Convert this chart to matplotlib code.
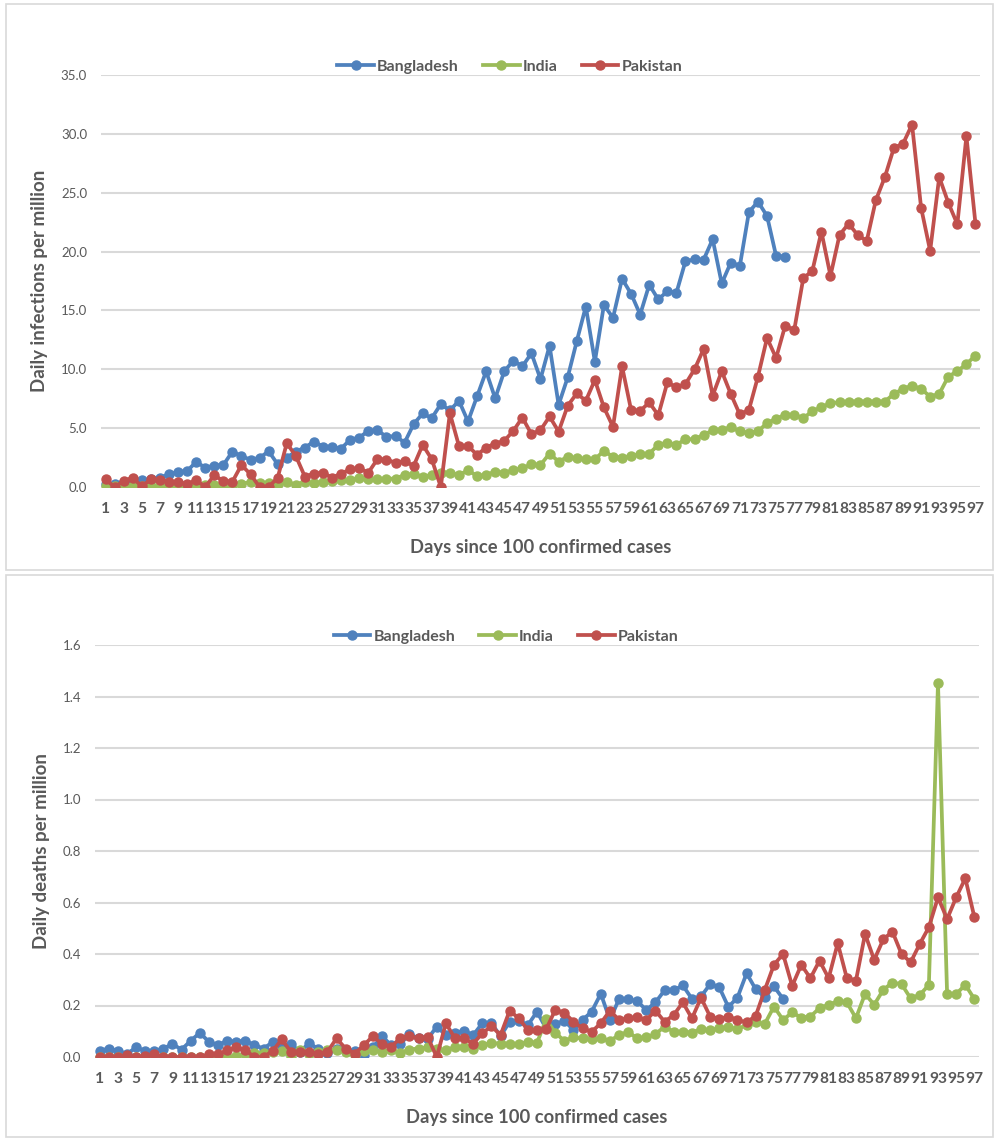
import matplotlib
matplotlib.use("Agg")
import matplotlib.pyplot as plt
from matplotlib.patches import Rectangle
from matplotlib.ticker import FormatStrFormatter, FixedLocator, NullLocator

plt.rcParams['font.family'] = ['Lato', 'DejaVu Sans']

countries = ["Bangladesh", "India", "Pakistan"]
colors = {"Bangladesh": "#4F81BD", "India": "#9BBB59", "Pakistan": "#C0504D"}
days = list(range(1, 98))
tick_labels = [str(d) for d in days if d % 2 == 1]

inf_bangladesh = [0.25, 0.28, 0.45, 0.65, 0.57, 0.65, 0.79, 1.08, 1.28, 1.36,
                  2.13, 1.65, 1.82, 1.87, 3.01, 2.61, 2.33, 2.47, 3.04, 1.93,
                  2.5, 3.01, 3.35, 3.86, 3.43, 3.43, 3.26, 4.03, 4.2, 4.77,
                  4.83, 4.26, 4.34, 3.77, 5.34, 6.25, 5.85, 7.04, 6.5, 7.33,
                  5.57, 7.7, 9.83, 7.53, 9.83, 10.73, 10.25, 11.36, 9.17, 12.0,
                  6.98, 9.31, 12.38, 15.33, 10.65, 15.47, 14.37, 17.69, 16.41, 14.65,
                  17.18, 15.93, 16.64, 16.5, 19.19, 19.33, 19.3, 21.05, 17.29, 19.07,
                  18.79, 23.36, 24.24, 23.02, 19.63, 19.58]
inf_india = [0.05, 0.05, 0.05, 0.08, 0.05, 0.1, 0.1, 0.1, 0.1, 0.1,
             0.12, 0.15, 0.17, 0.15, 0.2, 0.25, 0.45, 0.35, 0.37, 0.28,
             0.43, 0.2, 0.45, 0.35, 0.43, 0.5, 0.6, 0.6, 0.8, 0.7,
             0.65, 0.7, 0.71, 1.02, 1.08, 0.88, 1.02, 1.22, 1.22, 1.02,
             1.42, 0.94, 1.02, 1.31, 1.22, 1.42, 1.59, 1.93, 1.88, 2.84,
             2.16, 2.56, 2.44, 2.36, 2.36, 3.07, 2.56, 2.5, 2.64, 2.78,
             2.84, 3.58, 3.78, 3.58, 4.06, 4.06, 4.43, 4.8, 4.86, 5.08,
             4.72, 4.58, 4.75, 5.42, 5.79, 6.13, 6.13, 5.85, 6.44, 6.78,
             7.12, 7.2, 7.26, 7.26, 7.26, 7.26, 7.26, 7.91, 8.33, 8.62,
             8.33, 7.68, 7.91, 9.38, 9.83, 10.45, 11.16]
inf_pakistan = [0.65, 0.0, 0.51, 0.79, 0.05, 0.65, 0.57, 0.45, 0.45, 0.23,
                0.6, 0.0, 1.0, 0.51, 0.45, 1.87, 1.08, 0.0, 0.0, 0.79,
                3.72, 2.64, 0.88, 1.14, 1.22, 0.79, 1.14, 1.5, 1.59, 1.22,
                2.36, 2.33, 2.07, 2.2, 1.79, 3.58, 2.36, 0.0, 6.27, 3.49,
                3.49, 2.73, 3.35, 3.69, 3.92, 4.77, 5.9, 4.49, 4.83, 5.99,
                4.71, 6.9, 7.95, 7.33, 9.09, 6.76, 5.11, 10.25, 6.53, 6.47,
                7.18, 6.1, 8.89, 8.46, 8.75, 10.0, 11.72, 7.77, 9.83, 7.9,
                6.16, 6.55, 9.38, 12.66, 10.96, 13.7, 13.33, 17.74, 18.36, 21.69,
                17.94, 21.41, 22.37, 21.41, 20.9, 24.35, 26.33, 28.81, 29.15, 30.79,
                23.73, 20.06, 26.33, 24.15, 22.32, 29.8, 22.37]

dth_bangladesh = [0.024, 0.033, 0.024, 0.012, 0.037, 0.024, 0.024, 0.033, 0.05, 0.029,
                  0.063, 0.094, 0.059, 0.046, 0.063, 0.059, 0.063, 0.046, 0.033, 0.058,
                  0.04, 0.05, 0.02, 0.055, 0.03, 0.016, 0.03, 0.025, 0.025, 0.007,
                  0.037, 0.081, 0.045, 0.05, 0.089, 0.072, 0.07, 0.118, 0.085, 0.094,
                  0.102, 0.085, 0.131, 0.131, 0.081, 0.137, 0.141, 0.124, 0.176, 0.111,
                  0.128, 0.141, 0.105, 0.144, 0.176, 0.246, 0.144, 0.225, 0.225, 0.216,
                  0.183, 0.212, 0.259, 0.259, 0.278, 0.226, 0.235, 0.283, 0.271, 0.194,
                  0.231, 0.325, 0.263, 0.232, 0.274, 0.226]
dth_india = [0.0, 0.0, 0.0, 0.0, 0.0, 0.0, 0.0, 0.0, 0.0, 0.0,
             0.0, 0.0, 0.003, 0.003, 0.0, 0.003, 0.01, 0.015, 0.016, 0.02,
             0.024, 0.0, 0.029, 0.013, 0.02, 0.026, 0.029, 0.02, 0.007, 0.024,
             0.029, 0.02, 0.029, 0.016, 0.029, 0.033, 0.037, 0.03, 0.026, 0.039,
             0.037, 0.033, 0.046, 0.055, 0.052, 0.052, 0.05, 0.059, 0.055, 0.146,
             0.094, 0.063, 0.076, 0.072, 0.07, 0.072, 0.063, 0.085, 0.098, 0.072,
             0.076, 0.089, 0.118, 0.098, 0.098, 0.095, 0.108, 0.103, 0.112, 0.116,
             0.108, 0.125, 0.134, 0.129, 0.196, 0.144, 0.173, 0.153, 0.157, 0.19,
             0.203, 0.216, 0.212, 0.151, 0.245, 0.203, 0.261, 0.289, 0.283, 0.228,
             0.241, 0.28, 1.452, 0.245, 0.245, 0.28, 0.225]
dth_pakistan = [0.0, 0.0, 0.0, 0.007, 0.0, 0.003, 0.01, 0.0, 0.0, 0.0,
                0.0, 0.0, 0.01, 0.01, 0.026, 0.037, 0.026, 0.0, 0.0, 0.024,
                0.068, 0.02, 0.02, 0.02, 0.013, 0.02, 0.072, 0.033, 0.013, 0.046,
                0.081, 0.05, 0.039, 0.074, 0.081, 0.072, 0.078, 0.0, 0.131, 0.072,
                0.072, 0.052, 0.092, 0.12, 0.085, 0.18, 0.15, 0.105, 0.105, 0.107,
                0.183, 0.172, 0.137, 0.111, 0.098, 0.131, 0.18, 0.144, 0.15, 0.154,
                0.144, 0.18, 0.137, 0.163, 0.212, 0.15, 0.23, 0.157, 0.147, 0.157,
                0.144, 0.134, 0.16, 0.261, 0.358, 0.4, 0.276, 0.358, 0.306, 0.374,
                0.306, 0.442, 0.306, 0.297, 0.478, 0.377, 0.457, 0.487, 0.4, 0.368,
                0.439, 0.504, 0.62, 0.536, 0.62, 0.694, 0.542]

W, H = 995, 1140
fig = plt.figure(figsize=(W / 100, H / 100), dpi=100)

# panel borders
for (x0, y0, x1, y1) in [(6, 4, 993, 570), (6, 575, 993, 1137)]:
    fig.patches.append(Rectangle((x0 / W, 1 - y1 / H), (x1 - x0) / W, (y1 - y0) / H,
                                 transform=fig.transFigure, fill=False,
                                 edgecolor="#D9D9D9", linewidth=1.2))

gray = "#595959"


def make_panel(rect, series, ymax, ystep, ylabel):
    ax = fig.add_axes(rect)
    for name, vals in series:
        x = days[:len(vals)]
        ax.plot(x, vals, color=colors[name], linewidth=2.7, marker="o",
                markersize=6.5, label=name, solid_joinstyle="round", zorder=3)
    ax.set_xlim(0.5, 97.5)
    ax.set_ylim(0, ymax)
    nticks = int(round(ymax / ystep))
    ax.yaxis.set_major_locator(FixedLocator([i * ystep for i in range(nticks + 1)]))
    ax.yaxis.set_major_formatter(FormatStrFormatter("%.1f"))
    ax.set_xticks(days[::2])
    ax.set_xticklabels(tick_labels)
    ax.xaxis.set_minor_locator(NullLocator())
    for s in ax.spines.values():
        s.set_visible(False)
    ax.grid(axis="y", color="#D9D9D9", linewidth=1.5, zorder=0)
    ax.set_axisbelow(True)
    ax.tick_params(axis="both", length=0)
    ax.tick_params(axis="y", labelsize=9.5, labelcolor=gray, pad=10)
    ax.tick_params(axis="x", labelsize=11.2, labelcolor=gray, pad=11)
    for t in ax.get_xticklabels():
        t.set_fontweight("bold")
    ax.set_xlabel("Days since 100 confirmed cases", fontsize=13.2, fontweight="bold",
                  color=gray, labelpad=16)
    ax.set_ylabel(ylabel, fontsize=13.5, fontweight="bold", color=gray, labelpad=9)
    leg = ax.legend(loc="lower center", bbox_to_anchor=(0.465, 0.983), ncol=3,
                    frameon=False, fontsize=11.5, handlelength=2.3,
                    columnspacing=1.5, handletextpad=0.2, borderaxespad=0.1)
    for t in leg.get_texts():
        t.set_color(gray)
        t.set_fontweight("bold")
    return ax


ax1 = make_panel([101 / W, 1 - 487 / H, 879 / W, 412 / H],
                 [("Bangladesh", inf_bangladesh), ("India", inf_india),
                  ("Pakistan", inf_pakistan)],
                 35, 5, "Daily infections per million")
ax2 = make_panel([95 / W, 1 - 1057 / H, 884 / W, 412 / H],
                 [("Bangladesh", dth_bangladesh), ("India", dth_india),
                  ("Pakistan", dth_pakistan)],
                 1.6, 0.2, "Daily deaths per million")

fig.savefig("out.png", dpi=100)
